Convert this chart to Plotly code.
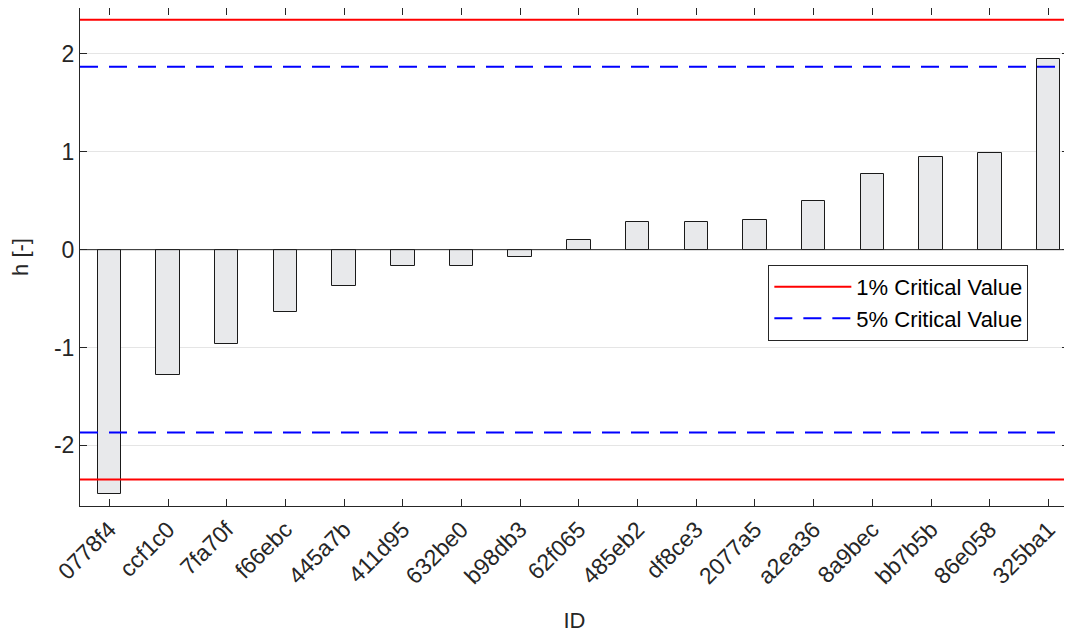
import plotly.graph_objects as go

ids = ["0778f4", "ccf1c0", "7fa70f", "f66ebc", "445a7b", "411d95", "632be0", "b98db3",
       "62f065", "485eb2", "df8ce3", "2077a5", "a2ea36", "8a9bec", "bb7b5b", "86e058", "325ba1"]
h_values = [-2.50, -1.28, -0.96, -0.64, -0.37, -0.17, -0.17, -0.08,
            0.10, 0.28, 0.28, 0.30, 0.50, 0.77, 0.95, 0.99, 1.95]
crit_1pct = 2.35
crit_5pct = 1.87
y_ticks = [-2, -1, 0, 1, 2]

x_pos = list(range(len(ids)))
x_range = [-0.5, len(ids) - 1 + 0.35]
y_range = [-2.62, 2.47]

font_family = "Liberation Sans, Arial, Helvetica, sans-serif"
txt = "#262626"

fig = go.Figure()

fig.add_trace(go.Bar(
    x=x_pos, y=h_values, width=0.4,
    marker=dict(color="#e8e9eb", line=dict(color="#1a1a1a", width=1)),
    showlegend=False,
))

# bar baseline
fig.add_trace(go.Scatter(
    x=x_range, y=[0, 0], mode="lines",
    line=dict(color="#262626", width=1), showlegend=False, hoverinfo="skip",
))

dash5 = "18px,11px"
fig.add_trace(go.Scatter(
    x=x_range, y=[crit_1pct, crit_1pct], mode="lines",
    line=dict(color="#ff0000", width=2), name="1% Critical Value",
))
fig.add_trace(go.Scatter(
    x=x_range, y=[-crit_1pct, -crit_1pct], mode="lines",
    line=dict(color="#ff0000", width=2), showlegend=False,
))
fig.add_trace(go.Scatter(
    x=x_range, y=[crit_5pct, crit_5pct], mode="lines",
    line=dict(color="#0000ff", width=2, dash=dash5), name="5% Critical Value",
))
fig.add_trace(go.Scatter(
    x=x_range, y=[-crit_5pct, -crit_5pct], mode="lines",
    line=dict(color="#0000ff", width=2, dash=dash5), showlegend=False,
))

# page body has an 8px margin, so the figure is offset by 8px
fig.update_layout(
    width=1064, height=626,
    margin=dict(l=72, r=3, t=0, b=128),
    paper_bgcolor="white", plot_bgcolor="white",
    font=dict(family=font_family, size=23, color=txt),
    legend=dict(
        x=0.696, y=0.484, xanchor="left", yanchor="top",
        bgcolor="white", bordercolor="#262626", borderwidth=1,
        font=dict(size=22, color="#000000"),
        tracegroupgap=0, itemwidth=77,
        entrywidth=295, entrywidthmode="pixels",
    ),
    bargap=0,
)

fig.update_xaxes(
    range=x_range, tickmode="array", tickvals=x_pos, ticktext=ids,
    tickangle=-45, ticks="inside", ticklen=7, tickcolor="#262626",
    showline=True, linecolor="#262626", linewidth=1, mirror="ticks",
    showgrid=False, zeroline=False, automargin=False,
    title=dict(text="ID", font=dict(size=22), standoff=24),
    tickfont=dict(size=23),
)
fig.update_yaxes(
    range=y_range, tickmode="array", tickvals=y_ticks,
    ticktext=[str(v) for v in y_ticks],
    ticks="inside", ticklen=7, tickcolor="#262626",
    showline=True, linecolor="#262626", linewidth=1, mirror="ticks",
    showgrid=True, gridcolor="#e5e5e5", gridwidth=1, zeroline=False,
    automargin=False,
    title=dict(text="h [-]", font=dict(size=22), standoff=22),
    tickfont=dict(size=23),
)

fig.write_html("out.html")
